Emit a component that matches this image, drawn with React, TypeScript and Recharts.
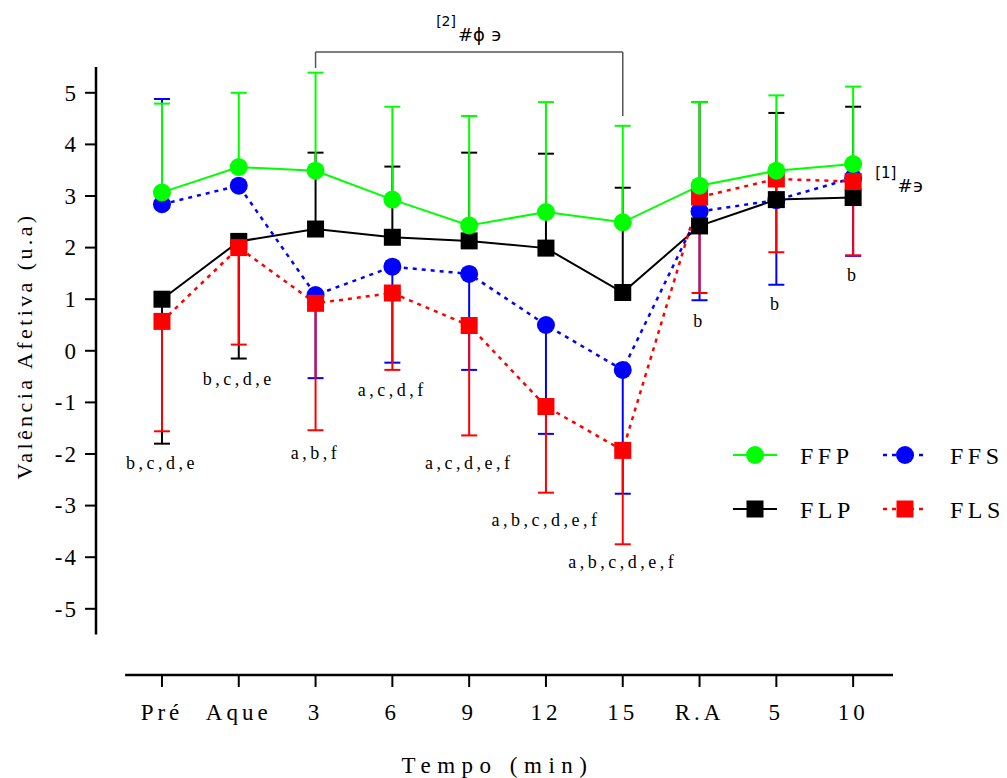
import React from 'react';
import { LineChart, Line, XAxis, YAxis, ErrorBar, ReferenceLine, ReferenceDot, Legend } from 'recharts';

// ---- data ----
const categories = ['Pré', 'Aque', '3', '6', '9', '12', '15', 'R.A', '5', '10'];

const ffpValues = [3.07, 3.56, 3.49, 2.93, 2.43, 2.69, 2.49, 3.2, 3.49, 3.62];
const ffpErrorEnds = [4.79, 5.0, 5.39, 4.73, 4.55, 4.82, 4.36, 4.82, 4.95, 5.12];

const flpValues = [1.0, 2.12, 2.36, 2.2, 2.13, 1.99, 1.13, 2.42, 2.93, 2.97];
const flpErrorEnds = [-1.8, -0.15, 3.84, 3.57, 3.84, 3.82, 3.16, 4.82, 4.61, 4.73];

const ffsValues = [2.84, 3.2, 1.08, 1.63, 1.49, 0.5, -0.37, 2.7, 2.92, 3.35];
const ffsErrorEnds = [4.88, null, -0.53, -0.23, -0.37, -1.61, -2.77, 0.98, 1.28, 1.84];

const flsValues = [0.57, 2.0, 0.92, 1.12, 0.49, -1.08, -1.93, 2.98, 3.33, 3.28];
const flsErrorEnds = [-1.56, 0.12, -1.54, -0.37, -1.64, -2.75, -3.75, 1.12, 1.91, 1.85];

const annotationLabels = ['b,c,d,e', 'b,c,d,e', 'a,b,f', 'a,c,d,f', 'a,c,d,e,f', 'a,b,c,d,e,f', 'a,b,c,d,e,f', 'b', 'b', 'b'];
const annotationY = [-2.17, -0.54, -1.98, -0.76, -2.17, -3.28, -4.09, 0.58, 0.91, 1.47];

const yTicks = [-5, -4, -3, -2, -1, 0, 1, 2, 3, 4, 5];
const xTicks = categories.map((_, i) => i);

const bracketFrom = 2;
const bracketTo = 6;
const bracketTop = 5.79;
const bracketLeftFoot = 5.48;
const bracketRightFoot = 4.55;

// ---- helpers ----
function toErr(values: number[], ends: (number | null)[]) {
  return values.map((v, i) => {
    const e = ends[i];
    if (e == null) return [0, 0];
    return e >= v ? [0, e - v] : [v - e, 0];
  });
}

const ffpErr = toErr(ffpValues, ffpErrorEnds);
const flpErr = toErr(flpValues, flpErrorEnds);
const ffsErr = toErr(ffsValues, ffsErrorEnds);
const flsErr = toErr(flsValues, flsErrorEnds);

const data = categories.map((c, i) => ({
  idx: i,
  label: c,
  ffp: ffpValues[i],
  ffpErr: ffpErr[i],
  flp: flpValues[i],
  flpErr: flpErr[i],
  ffs: ffsValues[i],
  ffsErr: ffsErr[i],
  fls: flsValues[i],
  flsErr: flsErr[i],
}));

const GREEN = '#00ff00';
const BLUE = '#0000ff';
const RED = '#ff0000';
const BLACK = '#000000';
const SERIF = '"Liberation Serif", "Times New Roman", serif';
const SANS = '"DejaVu Sans", "Liberation Sans", sans-serif';

const circleDot = (color: string) => (p: any) =>
  <circle key={`c-${color}-${p.index}`} cx={p.cx} cy={p.cy} r={9} fill={color} stroke="none" />;
const squareDot = (color: string) => (p: any) =>
  <rect key={`s-${color}-${p.index}`} x={p.cx - 8.5} y={p.cy - 8.5} width={17} height={17} fill={color} stroke="none" />;

const XTick = (p: any) => (
  <text x={p.x} y={p.y} dy="0.71em" textAnchor="middle" fontFamily={SERIF} fontSize={23} letterSpacing={4} fill="#000">
    {categories[p.payload.value]}
  </text>
);

const YTick = (p: any) => (
  <text x={p.x} y={p.y} dy="0.34em" textAnchor="end" fontFamily={SERIF} fontSize={23} letterSpacing={2} fill="#000">
    {String(p.payload.value)}
  </text>
);

const legendItems = [
  { name: 'FFP', color: GREEN, shape: 'circle', dashed: false, col: 0, row: 0 },
  { name: 'FFS', color: BLUE, shape: 'circle', dashed: true, col: 1, row: 0 },
  { name: 'FLP', color: BLACK, shape: 'square', dashed: false, col: 0, row: 1 },
  { name: 'FLS', color: RED, shape: 'square', dashed: true, col: 1, row: 1 },
];

const LegendContent = () => (
  <svg width={282} height={100}>
    {legendItems.map((it) => {
      const x0 = it.col === 0 ? 8 : 158;
      const cy = it.row === 0 ? 25 : 79;
      const mx = x0 + 22;
      return (
        <g key={it.name}>
          <line x1={x0} x2={x0 + 44} y1={cy} y2={cy} stroke={it.color} strokeWidth={it.dashed ? 2.5 : 2}
            strokeDasharray={it.dashed ? '4 5' : undefined} />
          {it.shape === 'circle'
            ? <circle cx={mx} cy={cy} r={9} fill={it.color} />
            : <rect x={mx - 8.5} y={cy - 8.5} width={17} height={17} fill={it.color} />}
          <text x={x0 + 67} y={cy + 9} fontFamily={SERIF} fontSize={24} letterSpacing={4.5} fill="#000">{it.name}</text>
        </g>
      );
    })}
  </svg>
);

const YTitle = (props: any) => {
  const vb = props.viewBox || { x: 0, y: 59, width: 88, height: 608 };
  const cx = (vb.x || 0) + 16;
  const cy = vb.y + vb.height / 2 - 25;
  return (
    <text x={cx} y={cy} transform={`rotate(-90, ${cx}, ${cy})`} textAnchor="middle" dominantBaseline="central"
      fontFamily={SERIF} fontSize={22} letterSpacing={3.4} fill="#000">
      Valência Afetiva (u.a)
    </text>
  );
};

const XTitle = (props: any) => {
  const vb = props.viewBox || { x: 88, y: 667, width: 797, height: 100 };
  const cx = vb.x + vb.width / 2 + 3;
  return (
    <text x={cx} y={vb.y + 98} textAnchor="middle" fontFamily={SERIF} fontSize={23} letterSpacing={6.5} fill="#000">
      Tempo (min)
    </text>
  );
};

export default function App() {
  return (
    <div style={{ width: 999, height: 770 }}>
      <LineChart width={999} height={770} data={data} margin={{ top: 59, right: 114, bottom: 3, left: 0 }}>
        <XAxis
          dataKey="idx"
          type="number"
          domain={[-0.859, 9.519]}
          ticks={xTicks}
          interval={0}
          allowDataOverflow
          axisLine={false}
          tickLine={{ stroke: '#000', strokeWidth: 2 }}
          tickSize={12}
          tickMargin={17}
          height={100}
          tick={XTick}
          label={{ content: XTitle }}
        />
        <YAxis
          type="number"
          domain={[-6.283, 5.5]}
          ticks={yTicks}
          interval={0}
          allowDataOverflow
          axisLine={false}
          tickLine={{ stroke: '#000', strokeWidth: 2 }}
          tickSize={11}
          tickMargin={7}
          width={88}
          tick={YTick}
          label={{ content: YTitle }}
        />

        {/* axis lines (detached GraphPad style) */}
        <ReferenceLine segment={[{ x: -0.859, y: -5.5 }, { x: -0.859, y: 5.5 }]} stroke="#000" strokeWidth={2.5} ifOverflow="visible" />
        <ReferenceLine segment={[{ x: -0.48, y: -6.283 }, { x: 9.519, y: -6.283 }]} stroke="#000" strokeWidth={2.5} ifOverflow="visible" />

        {/* bracket */}
        <ReferenceLine segment={[{ x: bracketFrom, y: bracketTop }, { x: bracketTo, y: bracketTop }]} stroke="#555" strokeWidth={1.5} ifOverflow="visible" />
        <ReferenceLine segment={[{ x: bracketFrom, y: bracketTop }, { x: bracketFrom, y: bracketLeftFoot }]} stroke="#555" strokeWidth={1.5} ifOverflow="visible" />
        <ReferenceLine segment={[{ x: bracketTo, y: bracketTop }, { x: bracketTo, y: bracketRightFoot }]} stroke="#555" strokeWidth={1.5} ifOverflow="visible" />

        <Line dataKey="ffs" stroke={BLUE} strokeWidth={2.5} strokeDasharray="4 5" isAnimationActive={false} dot={circleDot(BLUE)} activeDot={false}>
          <ErrorBar dataKey="ffsErr" direction="y" width={8} stroke={BLUE} strokeWidth={2} />
        </Line>
        <Line dataKey="flp" stroke={BLACK} strokeWidth={2} isAnimationActive={false} dot={squareDot(BLACK)} activeDot={false}>
          <ErrorBar dataKey="flpErr" direction="y" width={8} stroke={BLACK} strokeWidth={2} />
        </Line>
        <Line dataKey="fls" stroke={RED} strokeWidth={2.5} strokeDasharray="4 5" isAnimationActive={false} dot={squareDot(RED)} activeDot={false}>
          <ErrorBar dataKey="flsErr" direction="y" width={8} stroke={RED} strokeWidth={2} />
        </Line>
        <Line dataKey="ffp" stroke={GREEN} strokeWidth={2} isAnimationActive={false} dot={circleDot(GREEN)} activeDot={false}>
          <ErrorBar dataKey="ffpErr" direction="y" width={8} stroke={GREEN} strokeWidth={2} />
        </Line>

        {annotationLabels.map((t, i) => (
          <ReferenceDot key={`ann-${i}`} x={i} y={annotationY[i]} r={1} ifOverflow="visible"
            shape={(p: any) => (
              <text x={p.cx} y={p.cy} textAnchor="middle" dominantBaseline="central" fontFamily={SERIF} fontSize={18}
                letterSpacing={3.5} fill="#000">{t}</text>
            )} />
        ))}

        <ReferenceDot x={(bracketFrom + bracketTo) / 2} y={bracketTop} r={1} ifOverflow="visible"
          shape={(p: any) => (
            <text x={p.cx - 33} y={p.cy - 26} fontFamily={SANS} fill="#000">
              <tspan fontSize={14}>[2]</tspan>
              <tspan fontSize={18} dx={2} dy={15}>#ϕ ϶</tspan>
            </text>
          )} />

        <ReferenceDot x={9} y={ffpValues[9]} r={1} ifOverflow="visible"
          shape={(p: any) => (
            <text x={p.cx + 22} y={p.cy + 14} fontFamily={SANS} fill="#000">
              <tspan fontSize={15}>[1]</tspan>
              <tspan fontSize={18} dx={1} dy={14}>#϶</tspan>
            </text>
          )} />

        <Legend layout="horizontal" verticalAlign="middle" align="center"
          wrapperStyle={{ left: 717, top: 422, width: 282, height: 100 }}
          content={LegendContent} />
      </LineChart>
    </div>
  );
}
